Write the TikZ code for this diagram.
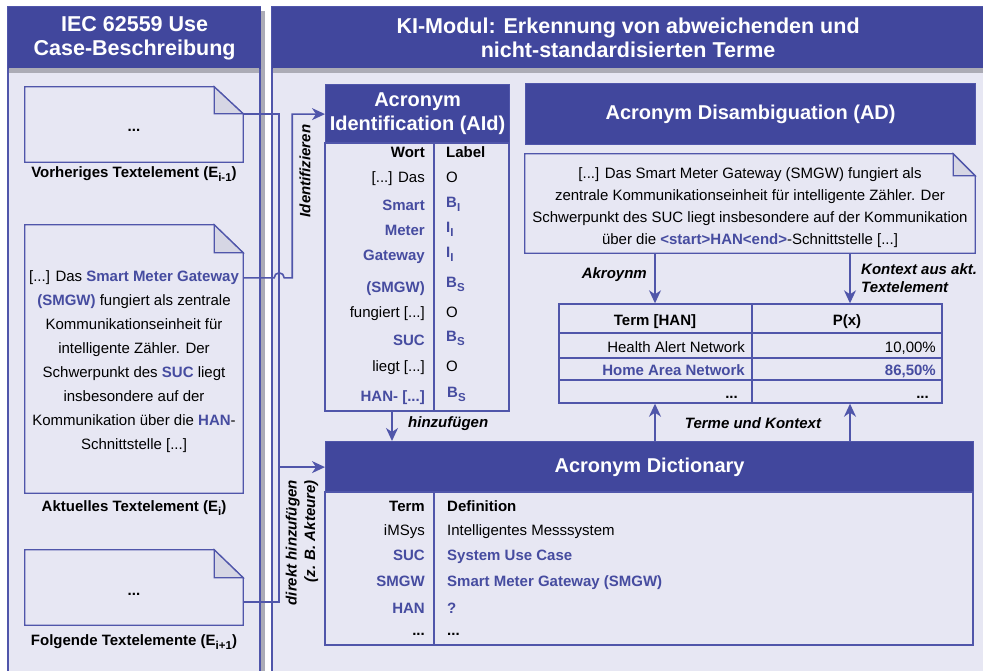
\documentclass[tikz,border=0pt]{standalone}
\usepackage{fontspec}
\setmainfont{Liberation Sans}
\usetikzlibrary{arrows.meta,calc}
\definecolor{hdr}{RGB}{65,71,157}
\definecolor{bgl}{RGB}{231,231,243}
\definecolor{ln}{RGB}{80,86,170}
\definecolor{acc}{RGB}{70,76,160}
\definecolor{foldc}{RGB}{214,214,228}
\definecolor{shd}{RGB}{172,172,182}
\newcommand\acct[1]{\textcolor{acc}{\bfseries #1}}
\newcommand\sbs[1]{\raisebox{-4pt}{\fontsize{11.5}{12}\selectfont #1}}
\newcommand\drawdoc[3]{%
  \draw[ln, line width=1.3pt, fill=bgl] (#1.north west) -- ([xshift=-#2pt]#1.north east) -- ([yshift=-#3pt]#1.north east) -- (#1.south east) -- (#1.south west) -- cycle;
  \draw[ln, line width=1.3pt, fill=foldc] ([xshift=-#2pt]#1.north east) -- ([xshift=-#2pt,yshift=-#3pt]#1.north east) -- ([yshift=-#3pt]#1.north east) -- cycle;}
\begin{document}
\begin{tikzpicture}[x=1pt,y=-1pt,
  hdrbox/.style={fill=hdr, draw=ln, line width=1.2pt, text=white, font=\fontsize{20}{24}\selectfont\bfseries, align=center, inner sep=0pt, anchor=north west},
  panelhdr/.style={hdrbox, draw=hdr, font=\fontsize{21.5}{24}\selectfont\bfseries},
  box/.style={draw=ln, line width=1.4pt, inner sep=0pt},
  docbox/.style={inner sep=0pt, draw=none},
  conn/.style={draw=ln, line width=1.6pt},
  arr/.style={conn, -{Stealth[length=13pt,width=12pt,inset=4pt]}},
  cell/.style={inner sep=0pt, font=\fontsize{15}{18}\selectfont},
  cellb/.style={cell, font=\fontsize{15}{18}\selectfont\bfseries},
  cellacc/.style={cellb, text=acc},
  lbl/.style={inner sep=0pt, font=\fontsize{15}{18.5}\selectfont\bfseries\itshape},
  doctext/.style={inner sep=0pt, align=center, font=\fontsize{15}{23.9}\selectfont}
]
\useasboundingbox (0,0) rectangle (983,670);
\clip (0,0) rectangle (983,670);
\fill[white] (0,0) rectangle (983,670);

% ---------- left panel ----------
\fill[shd] (12,11) rectangle (265,700);
\draw[ln, line width=1.2pt, fill=bgl] (8,7) rectangle (260,700);
\node[panelhdr, minimum width=252pt, minimum height=61pt] (lhd) at (8,7) {IEC 62559 Use\\Case-Beschreibung};
\fill[shd] (8.6,68) rectangle (259.4,73);

% ---------- right panel ----------
\draw[ln, line width=1.2pt, fill=bgl] (272,7) rectangle (1000,700);
\fill[hdr] (272,7) rectangle (1000,68);
\node[panelhdr, minimum width=711pt, minimum height=61pt] (rhd) at (272,7) {KI-Modul: Erkennung von abweichenden und\\nicht-standardisierten Terme};
\fill[shd] (272.6,68) rectangle (1000,73);

% ---------- documents ----------
\node[docbox, minimum width=218pt, minimum height=75pt] (doc1) at (134,124.5) {};
\drawdoc{doc1}{29}{27}
\node[cellb, anchor=base] (doc1t) at (134,131) {...};
\node[cellb, anchor=base] (doc1l) at (134,177) {Vorheriges Textelement (E\sbs{i-1})};

\node[docbox, minimum width=218pt, minimum height=268pt] (doc2) at (134,359) {};
\drawdoc{doc2}{29}{28}
\node[doctext, anchor=north] (doc2t) at (134,270.7) {[...] Das \acct{Smart Meter Gateway}\\\acct{(SMGW)} fungiert als zentrale\\Kommunikationseinheit für\\intelligente Zähler. Der\\Schwerpunkt des \acct{SUC} liegt\\insbesondere auf der\\Kommunikation über die \acct{HAN}-\\Schnittstelle [...]};
\node[cellb, anchor=base] (doc2l) at (134,511.5) {Aktuelles Textelement (E\sbs{i})};

\node[docbox, minimum width=218pt, minimum height=75pt] (doc3) at (134,587.5) {};
\drawdoc{doc3}{29}{28}
\node[cellb, anchor=base] (doc3t) at (134,595) {...};
\node[cellb, anchor=base] (doc3l) at (134,645.5) {Folgende Textelemente (E\sbs{i+1})};

% ---------- AId ----------
\node[hdrbox, minimum width=184pt, minimum height=59pt] (aidh) at (325,84) {Acronym\\Identification (AId)};
\node[box, minimum width=184pt, minimum height=268pt] (aidb) at (417,277) {};
\coordinate (aiddiv) at (434,0);
\draw[ln, line width=1.4pt] (aidb.north -| aiddiv) -- (aidb.south -| aiddiv);
\node[cellb, anchor=base east] (w0) at (425,157) {Wort};
\node[cellb, anchor=base west] (l0) at (446,157) {Label};
\node[cell, anchor=base east] (w1) at (425,182.5) {[...] Das};
\node[cell, anchor=base west] (l1) at (446,182.5) {O};
\node[cellacc, anchor=base east] (w2) at (425,210) {Smart};
\node[cellacc, anchor=base west] (l2) at (446,207) {B\sbs{I}};
\node[cellacc, anchor=base east] (w3) at (425,235) {Meter};
\node[cellacc, anchor=base west] (l3) at (446,232) {I\sbs{I}};
\node[cellacc, anchor=base east] (w4) at (425,260) {Gateway};
\node[cellacc, anchor=base west] (l4) at (446,257) {I\sbs{I}};
\node[cellacc, anchor=base east] (w5) at (425,292) {(SMGW)};
\node[cellacc, anchor=base west] (l5) at (446,287) {B\sbs{S}};
\node[cell, anchor=base east] (w6) at (425,317) {fungiert [...]};
\node[cell, anchor=base west] (l6) at (446,317) {O};
\node[cellacc, anchor=base east] (w7) at (425,345.5) {SUC};
\node[cellacc, anchor=base west] (l7) at (446,341) {B\sbs{S}};
\node[cell, anchor=base east] (w8) at (425,371) {liegt [...]};
\node[cell, anchor=base west] (l8) at (446,371) {O};
\node[cellacc, anchor=base east] (w9) at (425,401) {HAN- [...]};
\node[cellacc, anchor=base west] (l9) at (447,397) {B\sbs{S}};

% ---------- AD ----------
\node[hdrbox, minimum width=450pt, minimum height=61pt] (adh) at (525,83) {Acronym Disambiguation (AD)};
\node[docbox, minimum width=450pt, minimum height=99pt] (adn) at (750,203.5) {};
\drawdoc{adn}{22}{22}
\node[doctext, anchor=north, font=\fontsize{15}{22.3}\selectfont] (adnt) at (750,167) {[...] Das Smart Meter Gateway (SMGW) fungiert als\\zentrale Kommunikationseinheit für intelligente Zähler. Der\\Schwerpunkt des SUC liegt insbesondere auf der Kommunikation\\über die \acct{<start>HAN<end>}-Schnittstelle [...]};

% probability table
\node[box, minimum width=383pt, minimum height=99pt] (pt) at (750.5,353.5) {};
\coordinate (pdiv) at (752,0);
\draw[ln, line width=1.4pt] (pt.north -| pdiv) -- (pt.south -| pdiv);
\draw[ln, line width=1.4pt] (pt.west |- 0,333) -- (pt.east |- 0,333);
\draw[ln, line width=1.4pt] (pt.west |- 0,358) -- (pt.east |- 0,358);
\draw[ln, line width=1.4pt] (pt.west |- 0,380) -- (pt.east |- 0,380);
\node[cellb, anchor=base] (ph1) at (655,325) {Term [HAN]};
\node[cellb, anchor=base] (ph2) at (847,325) {P(x)};
\node[cell, anchor=base east] (pr1a) at (745,352) {Health Alert Network};
\node[cell, anchor=base east] (pr1b) at (936,352) {10,00\%};
\node[cellacc, anchor=base east] (pr2a) at (745,375.5) {Home Area Network};
\node[cellacc, anchor=base east] (pr2b) at (936,375.5) {86,50\%};
\node[cellb, anchor=base east] (pr3a) at (738,398) {...};
\node[cellb, anchor=base east] (pr3b) at (929,398) {...};

% ---------- Dictionary ----------
\node[hdrbox, minimum width=648pt, minimum height=51pt] (dicth) at (325,441) {Acronym Dictionary};
\node[box, minimum width=648pt, minimum height=153pt] (dictb) at (649,568.5) {};
\draw[ln, line width=1.4pt] (dictb.north -| aiddiv) -- (dictb.south -| aiddiv);
\node[cellb, anchor=base east] (t0) at (425,511.5) {Term};
\node[cellb, anchor=base west] (d0) at (447,511.5) {Definition};
\node[cell, anchor=base east] (t1) at (425,535) {iMSys};
\node[cell, anchor=base west] (d1) at (447,535) {Intelligentes Messsystem};
\node[cellacc, anchor=base east] (t2) at (425,560) {SUC};
\node[cellacc, anchor=base west] (d2) at (447,560) {System Use Case};
\node[cellacc, anchor=base east] (t3) at (425,586.5) {SMGW};
\node[cellacc, anchor=base west] (d3) at (447,586.5) {Smart Meter Gateway (SMGW)};
\node[cellacc, anchor=base east] (t4) at (425,613) {HAN};
\node[cellacc, anchor=base west] (d4) at (447,613) {?};
\node[cellb, anchor=base east] (t5) at (425,635) {...};
\node[cellb, anchor=base west] (d5) at (447,635) {...};

% ---------- connectors ----------
\coordinate (c0) at (392,0);
\coordinate (c1) at (655,0);
\coordinate (c2) at (850,0);
\coordinate (jx) at ($(dicth.west)+(-46,0)$);
\draw[conn] ($(doc1.north east)+(0,27)$) -| (jx);
\draw[conn] ($(doc3.north east)+(0,52)$) -| (jx);
\draw[arr] (jx) -- (dicth.west);
\draw[arr] ($(doc2.north east)+(0,53)$) -- ++(31,0) arc[start angle=180, end angle=0, radius=5pt] -- ++(8,0) |- (aidh.west);
\draw[arr] (aidb.south -| c0) -- (dicth.north -| c0);
\draw[arr] (adn.south -| c1) -- (pt.north -| c1);
\draw[arr] (adn.south -| c2) -- (pt.north -| c2);
\draw[arr] (dicth.north -| c1) -- (pt.south -| c1);
\draw[arr] (dicth.north -| c2) -- (pt.south -| c2);

% ---------- labels ----------
\node[lbl, rotate=90] (lid) at (305,171) {Identifizieren};
\node[lbl, rotate=90, anchor=east, align=right] (ldh) at (302,480) {direkt hinzufügen\\(z. B. Akteure)};
\node[lbl, anchor=west] (lhz) at (408,424) {hinzufügen};
\node[lbl, anchor=east] (lak) at (647,275) {Akroynm};
\node[lbl, anchor=west, align=left, font=\fontsize{15}{18}\selectfont\bfseries\itshape] (lkx) at (861,278) {Kontext aus akt.\\Textelement};
\node[lbl] (ltk) at (753,423) {Terme und Kontext};
\end{tikzpicture}
\end{document}
